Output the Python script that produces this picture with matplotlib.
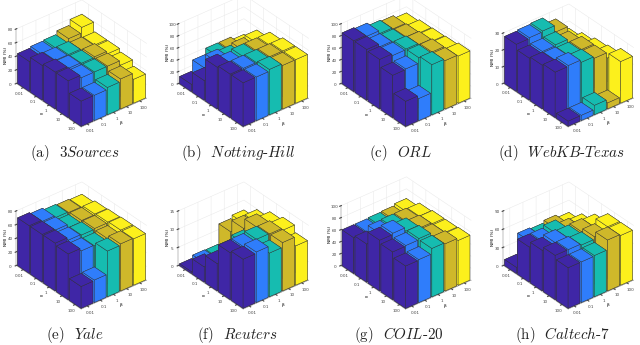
"""Parameter sensitivity bars (NMI against alpha and beta) for eight datasets."""

import matplotlib
matplotlib.use("Agg")
import matplotlib.pyplot as plt
import numpy as np

plt.rcParams["mathtext.fontset"] = "cm"
plt.rcParams["axes.unicode_minus"] = False

param_labels = ["0.01", "0.1", "1", "10", "100"]
bar_colors = ["#3f26a6", "#2f7dfb", "#16bcb0", "#cfb82a", "#fcf01c"]

# one row per beta, one value per alpha
sources3 = [[44, 51, 54, 54, 37], [46, 50, 51, 50, 37], [47, 50, 50, 50, 40],
            [52, 48, 51, 50, 44], [60, 47, 47, 43, 35]]
notting = [[12, 33, 70, 73, 73], [30, 54, 65, 73, 73], [40, 51, 68, 73, 76],
           [40, 54, 68, 73, 73], [35, 57, 68, 73, 73]]
orl = [[85, 85, 83, 71, 42], [83, 80, 80, 72, 37], [78, 78, 81, 81, 84],
       [76, 77, 79, 81, 81], [71, 74, 75, 76, 79]]
webkb = [[28, 25, 26, 27, 3], [28.5, 25.5, 25.5, 27.5, 3], [29, 26, 25, 26, 5.5],
         [25, 23, 25, 25, 3.5], [16, 18.6, 20.6, 21.6, 24.7]]
yale = [[70, 70, 70, 67, 32], [68, 68, 66, 63, 33], [65, 63, 65, 62, 67],
        [64, 65, 66, 64, 69], [63, 66, 67, 68, 68]]
reuters = [[0.5, 4.2, 7.5, 12.9, 13.5], [1.3, 3, 7, 13, 13.9], [1.2, 5, 10, 13.4, 12],
           [6.7, 10, 12.8, 13.3, 13.3], [7.5, 10, 11.8, 12.7, 10.8]]
coil = [[60, 64, 85, 80, 71], [60, 72, 87, 81, 72], [61, 73, 81, 83, 81],
        [62, 73, 76, 76, 79], [65, 72, 74, 74, 75]]
caltech = [[10, 58, 67, 73, 67], [44, 58, 70, 73, 67], [42, 62, 68, 71, 68],
           [46, 55, 69, 75, 84], [41, 53, 67, 82, 82]]

panels = [sources3, notting, orl, webkb, yale, reuters, coil, caltech]
z_ticks = [[0, 20, 40, 60, 80], [0, 20, 40, 60, 80, 100], [0, 20, 40, 60, 80, 100], [0, 10, 20, 30],
           [0, 20, 40, 60, 80], [0, 5, 10, 15], [0, 20, 40, 60, 80, 100], [0, 30, 60, 90]]
captions = ["(a)  $\\mathit{3Sources}$", "(b)  $\\mathit{Notting}$-$\\mathit{Hill}$", "(c)  $\\mathit{ORL}$",
            "(d)  $\\mathit{WebKB}$-$\\mathit{Texas}$", "(e)  $\\mathit{Yale}$", "(f)  $\\mathit{Reuters}$",
            "(g)  $\\mathit{COIL}$-$\\mathit{20}$", "(h)  $\\mathit{Caltech}$-$\\mathit{7}$"]

# layout in pixels: left/right box corner x, floor centre y, height of the z axis
left_x = [18, 180, 343, 505, 18, 180, 343, 505]
right_x = [145, 307, 469, 632, 145, 307, 469, 632]
floor_y = [90, 90, 90, 90, 272, 272, 272, 272]
z_px = [53, 58, 58, 49, 53, 53, 58, 53]
caption_x = [75, 238, 400, 562, 75, 237, 399, 562]
caption_y = [153, 153, 153, 153, 335, 335, 335, 335]

W, H = 640, 345
AX = 200  # axes square, px
SCALE = 0.005

fig = plt.figure(figsize=(W / 100, H / 100), dpi=100)

for i, values in enumerate(panels):
    cx = (left_x[i] + right_x[i]) / 2 - 2.7
    cy = floor_y[i] - z_px[i] / 2 + 2.7
    ax = fig.add_axes([(cx - AX / 2) / W, 1 - (cy + AX / 2) / H, AX / W, AX / H],
                      projection="3d", proj_type="ortho", computed_zorder=False)
    ax.patch.set_alpha(0)
    ax.view_init(elev=33, azim=-129)
    aspect = np.array([82, 100, z_px[i] / np.cos(np.radians(33))])
    ax.set_box_aspect(aspect, zoom=SCALE * np.linalg.norm(aspect))

    order = 3
    for b in range(4, -1, -1):
        for a in range(5):
            ax.bar3d(b + 0.05, 4 - a + 0.05, 0, 0.9, 0.9, values[b][a], color=bar_colors[b],
                     edgecolor="#333333", linewidth=0.3, shade=False, zorder=order)
            order += 1

    ax.set_xlim(0, 5)
    ax.set_ylim(0, 5)
    ax.set_zlim(0, z_ticks[i][-1])
    ax.set_xticks(np.arange(5) + 0.5, param_labels)
    ax.set_yticks(np.arange(5) + 0.5, param_labels[::-1])
    ax.set_zticks(z_ticks[i])
    ax.set_xlabel("\u03b2", fontsize=3.2, labelpad=-13)
    ax.set_ylabel("\u03b1", fontsize=3.2, labelpad=-13)
    ax.set_zlabel("NMI (%)", fontsize=3.2, labelpad=-15)
    ax.zaxis.set_ticks_position("upper")
    ax.zaxis.set_label_position("upper")
    ax.tick_params(labelsize=3, pad=-4.5, length=0.8, width=0.3, colors="#444444")
    for axis in (ax.xaxis, ax.yaxis, ax.zaxis):
        axis.set_pane_color((1, 1, 1, 0))
        axis.pane.set_edgecolor("#e2e2e2")
        axis.line.set_color("#666666")
        axis.line.set_linewidth(0.3)
        axis._axinfo["grid"].update(color="#e8e8e8", linewidth=0.35)

    fig.text(caption_x[i] / W, 1 - caption_y[i] / H, captions[i], family="cmr10",
             fontsize=10.8, ha="center", va="center", color="#222222")

fig.savefig("out.png", dpi=100)
